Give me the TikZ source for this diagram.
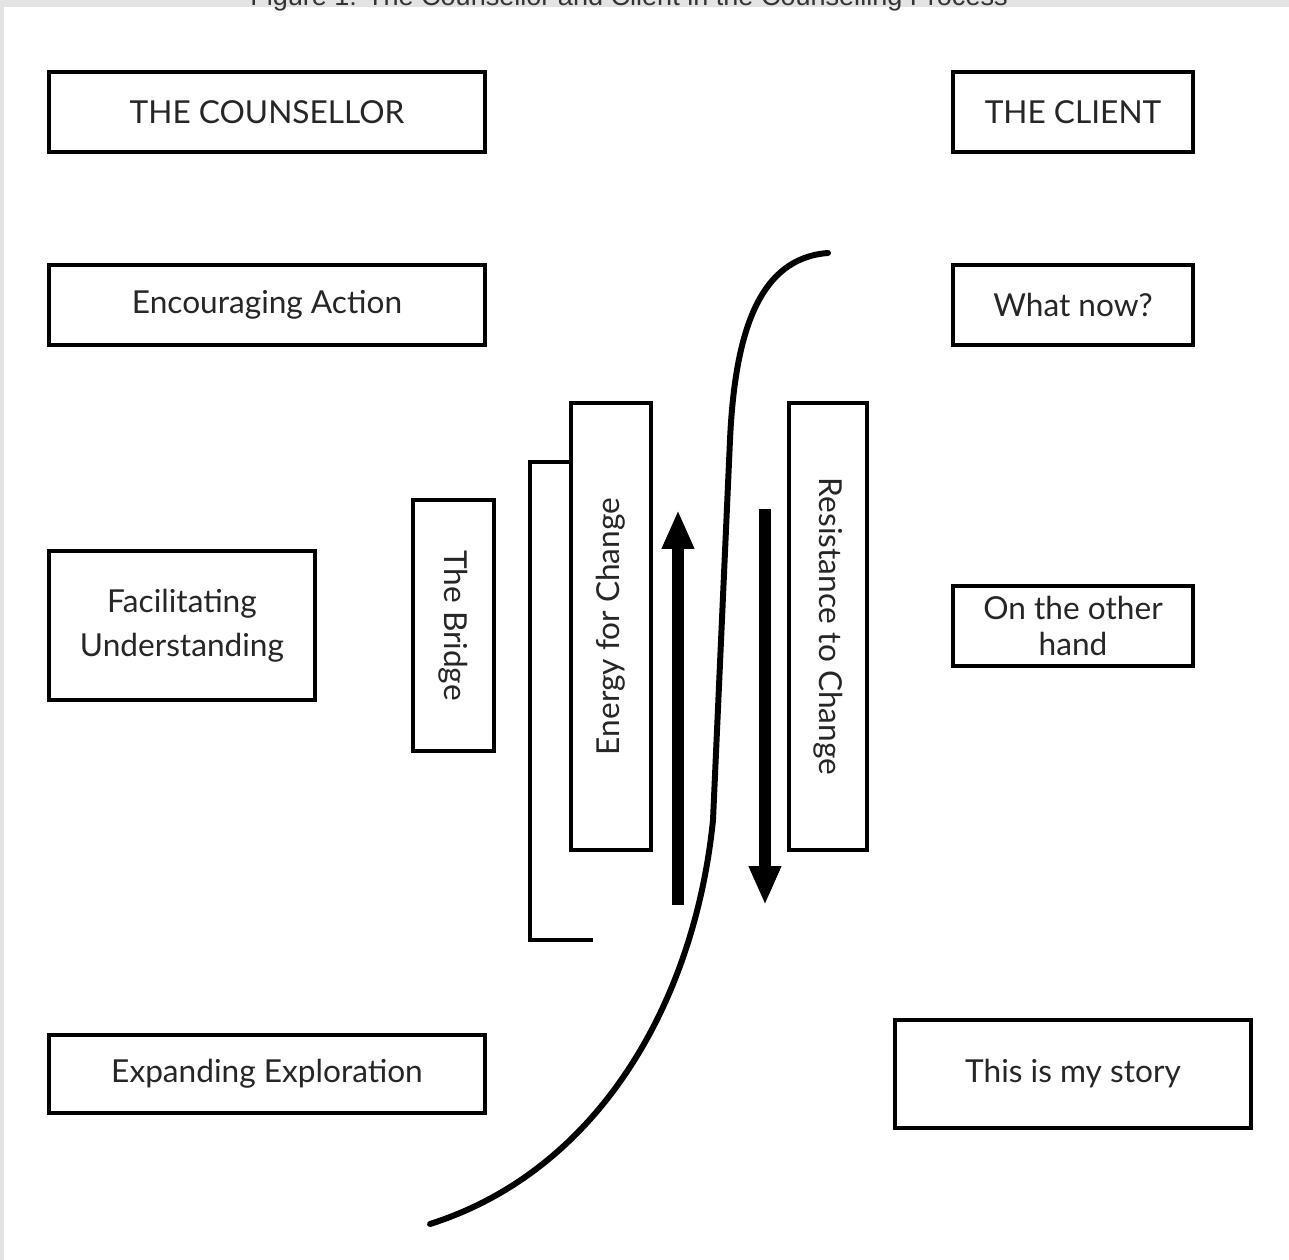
\documentclass[tikz,border=0pt]{standalone}
\usepackage{fontspec}
\setmainfont{Lato}
\newfontfamily\captionfont{Liberation Sans}
\usetikzlibrary{arrows.meta}

\begin{document}
\begin{tikzpicture}[
x=0.02cm,
y=-0.02cm,
stage/.style={
  draw=black,
  line width=1.9pt,
  fill=white,
  align=center,
  inner sep=2pt,
  text=black!85,
  font=\fontsize{18}{25}\selectfont
  },
wide/.style={
  stage,
  minimum width=8.72cm,
  minimum height=1.6cm
  },
narrow/.style={
  stage,
  minimum width=4.8cm,
  minimum height=1.6cm
  },
upright/.style={
  stage,
  rotate=90
  },
downright/.style={
  stage,
  rotate=-90
  },
push/.style={
  line width=6.8pt,
  -{Triangle[width=0.6cm,length=0.78cm]}
  },
sweep/.style={
  line width=3.4pt,
  line cap=round
  }
]

\useasboundingbox (0,0) rectangle (1289,1260);
\clip (0,0) rectangle (1289,1260);
\fill[black!11] (0,0) rectangle (1289,7);
\fill[black!11] (0,0) rectangle (4,1260);
\node[anchor=base, text=black!80, font=\captionfont\fontsize{15.4}{17}\selectfont] (caption) at (629,6)
  {Figure 1: The Counsellor and Client in the Counselling Process};

% counsellor side
\node[wide] (counsellor) at (267,112) {THE COUNSELLOR};
\node[wide] (action) at (267,305) {Encouraging Action};
\node[stage, minimum width=5.32cm, minimum height=2.98cm] (facilitate) at (182,625.5)
  {Facilitating\\Understanding};
\node[wide, minimum height=1.56cm] (explore) at (267,1074) {Expanding Exploration};

% client side
\node[narrow] (client) at (1073,112) {THE CLIENT};
\node[narrow] (whatnow) at (1073,305) {What now?};
\node[narrow, font=\fontsize{18}{20}\selectfont] (otherhand) at (1073,626) {On the other\\hand};
\node[stage, minimum width=7.12cm, minimum height=2.16cm] (story) at (1073,1074) {This is my story};

% middle
\node[downright, minimum width=5.02cm, minimum height=1.62cm] (bridge) at (453.5,625.5) {The Bridge};
\node[upright, minimum width=8.94cm, minimum height=1.6cm] (energy) at (611,626.5) {Energy for Change};
\node[downright, minimum width=8.94cm, minimum height=1.56cm] (resist) at (828,626.5) {Resistance to Change};

\coordinate (brA) at (571,462);
\coordinate (brB) at (530,462);
\coordinate (brC) at (530,940);
\coordinate (brD) at (593,940);
\draw[line width=1.9pt] (brA) -- (brB) -- (brC) -- (brD);

\coordinate (upfoot) at (678,905);
\coordinate (uptip) at (678,510);
\coordinate (downtop) at (765,509);
\coordinate (downtip) at (765,905);
\draw[push] (upfoot) -- (uptip);
\draw[push] (downtop) -- (downtip);

\coordinate (sweeptop) at (828,253);
\coordinate (sweepmid) at (730,440);
\coordinate (sweeplow) at (713,820);
\coordinate (sweepend) at (430,1224);
\draw[sweep] (sweeptop) .. controls (760,258) and (735,330) .. (sweepmid)
  -- (sweeplow) .. controls (695,1000) and (600,1170) .. (sweepend);
\end{tikzpicture}
\end{document}
